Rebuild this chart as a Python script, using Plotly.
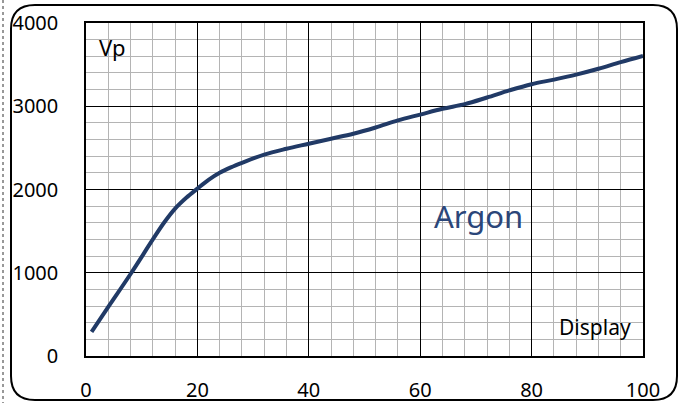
import plotly.graph_objects as go

# curve
display = [1, 4, 8, 12, 14, 16, 18, 20, 22, 24, 26, 28, 32, 36, 40, 44, 48,
           52, 56, 60, 64, 68, 72, 76, 80, 84, 88, 92, 96, 100]
vp = [290, 590, 985, 1400, 1600, 1770, 1900, 2010, 2115, 2200, 2265, 2320,
      2420, 2490, 2550, 2610, 2670, 2745, 2830, 2900, 2970, 3025, 3105, 3190,
      3265, 3320, 3380, 3450, 3530, 3605]

W, H = 683, 403
L, R, T, B = 86, 40, 23, 47
pw, ph = W - L - R, H - T - B
FONT = "Noto Sans"


def px(x):
    return (x - L) / pw


def py(y):
    return (H - B - y) / ph


fig = go.Figure(go.Scatter(x=display, y=vp, mode="lines",
                           line=dict(color="#213a66", width=4, shape="spline", smoothing=1.0),
                           hoverinfo="skip"))

axis = dict(showline=True, linecolor="black", linewidth=1.5, mirror=True,
            showgrid=True, gridcolor="black", gridwidth=1.2, zeroline=False,
            ticks="", tickfont=dict(family=FONT, size=20, color="black"),
            automargin=False)

fig.update_xaxes(range=[0, 100], dtick=20, ticklabelstandoff=15, **axis,
                 minor=dict(dtick=4, showgrid=True, gridcolor="#b4b4b4", gridwidth=1.3))
fig.update_yaxes(range=[0, 4000], dtick=1000, ticklabelstandoff=22, **axis,
                 minor=dict(dtick=200, showgrid=True, gridcolor="#b4b4b4", gridwidth=1.3))

# rounded outer frame
x0, x1, y0, y1, r = 11, 677, 5, 400, 24
path = (f"M {px(x0 + r)},{py(y0)} L {px(x1 - r)},{py(y0)} "
        f"Q {px(x1)},{py(y0)} {px(x1)},{py(y0 + r)} "
        f"L {px(x1)},{py(y1 - r)} Q {px(x1)},{py(y1)} {px(x1 - r)},{py(y1)} "
        f"L {px(x0 + r)},{py(y1)} Q {px(x0)},{py(y1)} {px(x0)},{py(y1 - r)} "
        f"L {px(x0)},{py(y0 + r)} Q {px(x0)},{py(y0)} {px(x0 + r)},{py(y0)} Z")
fig.add_shape(type="path", path=path, xref="paper", yref="paper",
              line=dict(color="black", width=2), layer="below")
fig.add_shape(type="line", xref="paper", yref="paper", x0=px(3), x1=px(3),
              y0=py(0), y1=py(H), line=dict(color="#333333", width=1, dash="dot"))

fig.add_annotation(x=2, y=3710, text="Vp", showarrow=False, xanchor="left",
                   font=dict(family=FONT, size=22, color="black"))
fig.add_annotation(x=98.2, y=350, text="Display", showarrow=False, xanchor="right",
                   font=dict(family=FONT, size=21, color="black"))
fig.add_annotation(x=70.4, y=1680, text="Argon", showarrow=False,
                   font=dict(family=FONT, size=31, color="#2b4679"))

fig.update_layout(width=W, height=H, margin=dict(l=L, r=R, t=T, b=B),
                  paper_bgcolor="white", plot_bgcolor="white", showlegend=False)

fig.write_html("out.html", config={"displayModeBar": False},
               post_script="document.body.style.margin='0';document.body.style.overflow='hidden';")
